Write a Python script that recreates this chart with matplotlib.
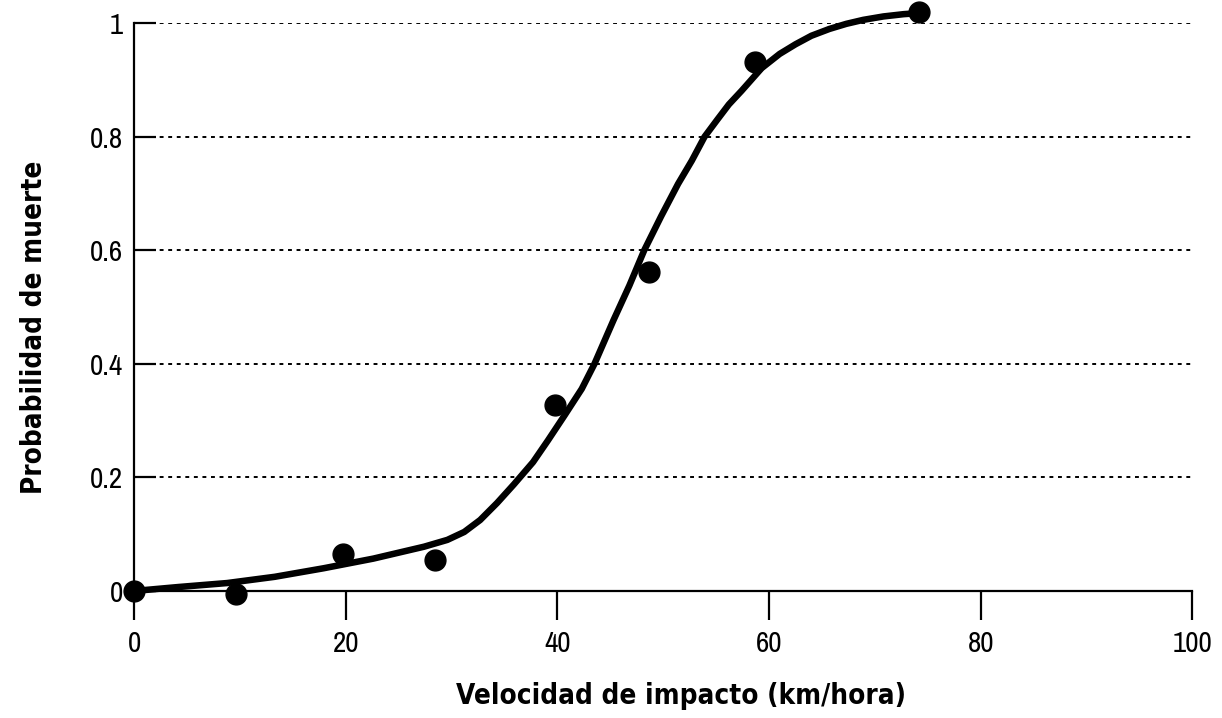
import matplotlib
matplotlib.use('Agg')
import os
import matplotlib.pyplot as plt
from matplotlib import font_manager as fm

# observed points
obs_x = [0, 9.6, 19.75, 28.45, 39.74, 48.7, 58.67, 74.18]
obs_y = [0.0, -0.006, 0.066, 0.055, 0.327, 0.561, 0.932, 1.019]

# fitted curve
fit_x = [0, 4.2, 8.8, 13.3, 17.9, 22.6, 27.4, 29.6, 31.2, 32.7, 34.3, 35.9, 37.7,
         39.1, 40.7, 42.3, 43.5, 45.3, 46.8, 48.2, 49.8, 51.4, 52.7, 53.9, 55.1,
         56.2, 57.4, 59.3, 61.0, 62.5, 64.0, 65.7, 67.3, 68.9, 70.8, 72.7, 74.2]
fit_y = [0.0, 0.007, 0.014, 0.025, 0.040, 0.057, 0.078, 0.090, 0.104, 0.125, 0.155,
         0.188, 0.227, 0.265, 0.310, 0.356, 0.400, 0.477, 0.538, 0.600, 0.660, 0.717,
         0.758, 0.800, 0.830, 0.857, 0.881, 0.921, 0.946, 0.963, 0.978, 0.990, 0.999,
         1.006, 1.012, 1.016, 1.018]

xticks = [0, 20, 40, 60, 80, 100]
yticks = [0, 0.2, 0.4, 0.6, 0.8, 1]
yticklabels = ['0', '0.2', '0.4', '0.6', '0.8', '1']


def narrow_font(bold):
    # regular: a narrow face for the digits; bold: a plain condensed face
    want = 700 if bold else 400
    best, best_score = None, None
    for f in fm.fontManager.ttflist:
        base = os.path.basename(f.fname).lower()
        if 'condensed' not in base and 'narrow' not in base:
            continue
        if f.style != 'normal' or 'italic' in base:
            continue
        w = f.weight if isinstance(f.weight, (int, float)) else fm.weight_dict.get(f.weight, 400)
        score = abs(w - want)
        if 'extra' in base or 'ultra' in base:
            score += 1000
        if 'semi' in base:
            score += 300
        if 'narrow' in base:
            score += 200 if bold else -50
        if best_score is None or score < best_score:
            best, best_score = f, score
    if best is None:
        return fm.FontProperties(family='DejaVu Sans', weight='bold' if bold else 'normal')
    return fm.FontProperties(fname=best.fname)


tick_fp = narrow_font(False)
label_fp = narrow_font(True)
tick_fp.set_size(21)
label_fp.set_size(20)

fig = plt.figure(figsize=(12.22, 7.18), dpi=100)
ax = fig.add_axes([0.1097, 0.1769, 0.8661, 0.7907])

for yv in yticks[1:]:
    ax.axhline(yv, color='black', linestyle=(0, (2.0, 2.4)), linewidth=1.4, zorder=1)

ax.plot(fit_x, fit_y, color='black', linewidth=4.7, solid_capstyle='round',
        solid_joinstyle='round', clip_on=False, zorder=3)
ax.plot(obs_x, obs_y, linestyle='none', marker='o', markersize=15,
        color='black', clip_on=False, zorder=4)

ax.set_xlim(0, 100)
ax.set_ylim(0, 1)
ax.spines['top'].set_visible(False)
ax.spines['right'].set_visible(False)
ax.spines['left'].set_linewidth(1.6)
ax.spines['bottom'].set_linewidth(1.6)

ax.set_xticks(xticks)
ax.set_xticklabels([str(v) for v in xticks], fontproperties=tick_fp)
ax.set_yticks(yticks)
ax.set_yticklabels(yticklabels, fontproperties=tick_fp)
ax.tick_params(axis='x', direction='out', length=21, width=1.6, pad=7)
ax.tick_params(axis='y', direction='in', length=16, width=1.6, pad=8)

ax.set_xlabel('Velocidad de impacto (km/hora)', fontproperties=label_fp)
ax.set_ylabel('Probabilidad de muerte', fontproperties=label_fp)
ax.xaxis.set_label_coords(0.5166, -0.160)
ax.yaxis.set_label_coords(-0.081, 0.465)

fig.savefig('out.png', dpi=100)
